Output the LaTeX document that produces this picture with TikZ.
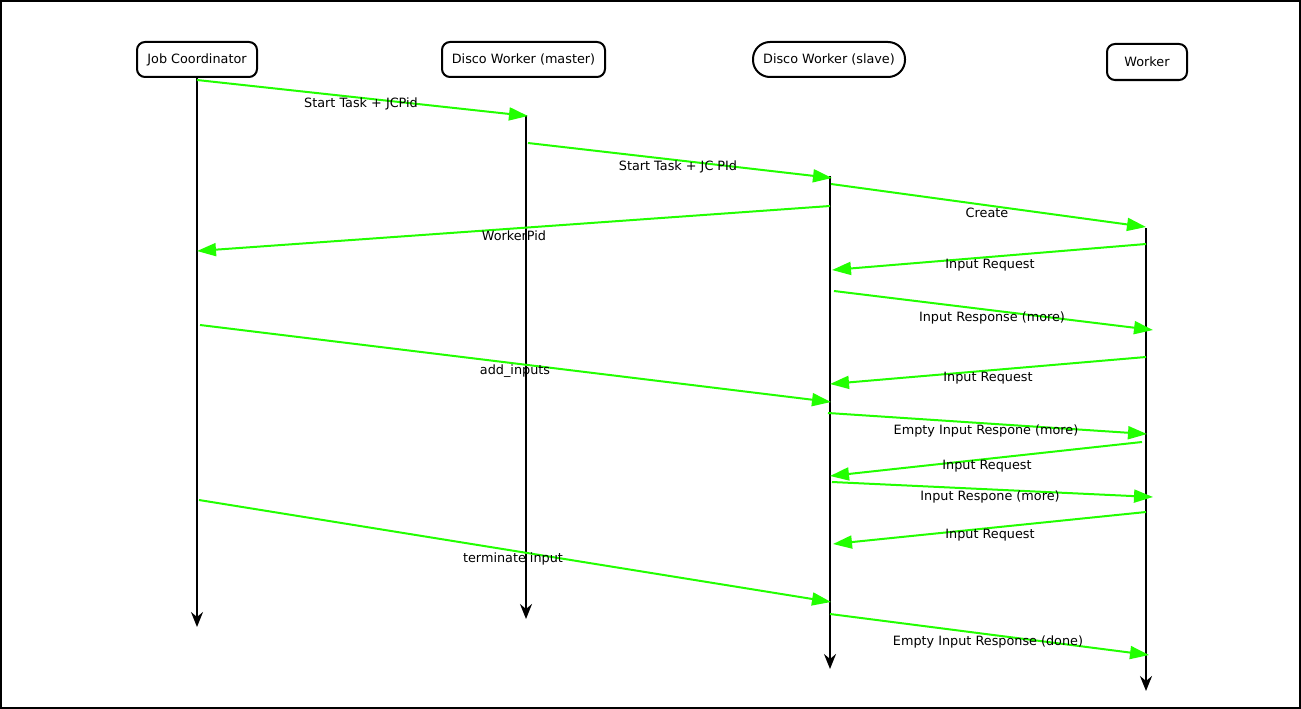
\documentclass[tikz,border=0pt]{standalone}
\usepackage{fontspec}
\setmainfont{DejaVu Sans}
\usetikzlibrary{arrows.meta}
\definecolor{msg}{RGB}{34,255,0}
\tikzset{
  actor/.style={draw=black, line width=2pt, rounded corners=8pt, minimum height=35pt, inner sep=0pt, font=\fontsize{12.8}{15}\selectfont, fill=white},
  life/.style={draw=black, line width=2pt, -{Stealth[length=15pt,width=12pt,inset=5pt]}},
  msgline/.style={draw=msg, line width=2pt, -{Triangle[length=19pt,width=13pt]}},
  lbl/.style={font=\fontsize{12.8}{15}\selectfont, inner sep=0pt}
}
\begin{document}
\begin{tikzpicture}[x=1pt,y=-1pt]
\useasboundingbox (0,0) rectangle (1301,709);
\draw[line width=2pt] (1,1) rectangle (1300,708);
% actors
\node[actor, minimum width=120pt] (jc) at (197,59.5) {Job Coordinator};
\node[actor, minimum width=163pt] (dm) at (523.5,59.5) {Disco Worker (master)};
\node[actor, minimum width=152pt, rounded corners=17pt] (ds) at (829,59.5) {Disco Worker (slave)};
\node[actor, minimum width=80pt, minimum height=36pt] (wk) at (1147,62) {Worker};
% lifeline coordinates
\coordinate (jcA) at (197,77);  \coordinate (jcZ) at (197,627);
\coordinate (dmA) at (526,115); \coordinate (dmZ) at (526,619);
\coordinate (dsA) at (830,176); \coordinate (dsZ) at (830,669);
\coordinate (wkA) at (1146,228); \coordinate (wkZ) at (1146,691);
\draw[life] (jcA) -- (jcZ);
\draw[life] (dmA) -- (dmZ);
\draw[life] (dsA) -- (dsZ);
\draw[life] (wkA) -- (wkZ);
% message endpoints
\coordinate (m1a) at (197,80);   \coordinate (m1b) at (528,116);
\coordinate (m2a) at (528,143);  \coordinate (m2b) at (832,178);
\coordinate (m3a) at (831,184);  \coordinate (m3b) at (1146,227);
\coordinate (m4a) at (830,206);  \coordinate (m4b) at (197,251);
\coordinate (m5a) at (1146,244); \coordinate (m5b) at (832,270);
\coordinate (m6a) at (834,291);  \coordinate (m6b) at (1153,330);
\coordinate (m7a) at (1146,357); \coordinate (m7b) at (830,384);
\coordinate (m8a) at (200,325);  \coordinate (m8b) at (831,402);
\coordinate (m9a) at (828,413);  \coordinate (m9b) at (1147,434);
\coordinate (m10a) at (1142,442); \coordinate (m10b) at (830,476);
\coordinate (m11a) at (832,482); \coordinate (m11b) at (1153,497);
\coordinate (m12a) at (1146,512); \coordinate (m12b) at (833,544);
\coordinate (m13a) at (199,500); \coordinate (m13b) at (831,602);
\coordinate (m14a) at (830,614); \coordinate (m14b) at (1149,655);
\draw[msgline] (m1a) -- (m1b);
\draw[msgline] (m2a) -- (m2b);
\draw[msgline] (m3a) -- (m3b);
\draw[msgline] (m4a) -- (m4b);
\draw[msgline] (m5a) -- (m5b);
\draw[msgline] (m6a) -- (m6b);
\draw[msgline] (m7a) -- (m7b);
\draw[msgline] (m8a) -- (m8b);
\draw[msgline] (m9a) -- (m9b);
\draw[msgline] (m10a) -- (m10b);
\draw[msgline] (m11a) -- (m11b);
\draw[msgline] (m12a) -- (m12b);
\draw[msgline] (m13a) -- (m13b);
\draw[msgline] (m14a) -- (m14b);
% labels
\node[lbl] (l1) at (361,104) {Start Task + JCPid};
\node[lbl] (l2) at (678,167) {Start Task + JC PId};
\node[lbl] (l3) at (987,213) {Create};
\node[lbl] (l4) at (514,236) {WorkerPid};
\node[lbl] (l5) at (990,265) {Input Request};
\node[lbl] (l6) at (992,318) {Input Response (more)};
\node[lbl] (l7) at (988,378) {Input Request};
\node[lbl] (l8) at (515,371) {add\_inputs};
\node[lbl] (l9) at (986,431) {Empty Input Respone (more)};
\node[lbl] (l10) at (987,466) {Input Request};
\node[lbl] (l11) at (990,497) {Input Respone (more)};
\node[lbl] (l12) at (990,535) {Input Request};
\node[lbl] (l13) at (513,559) {terminate input};
\node[lbl] (l14) at (988,642) {Empty Input Response (done)};
\end{tikzpicture}
\end{document}
